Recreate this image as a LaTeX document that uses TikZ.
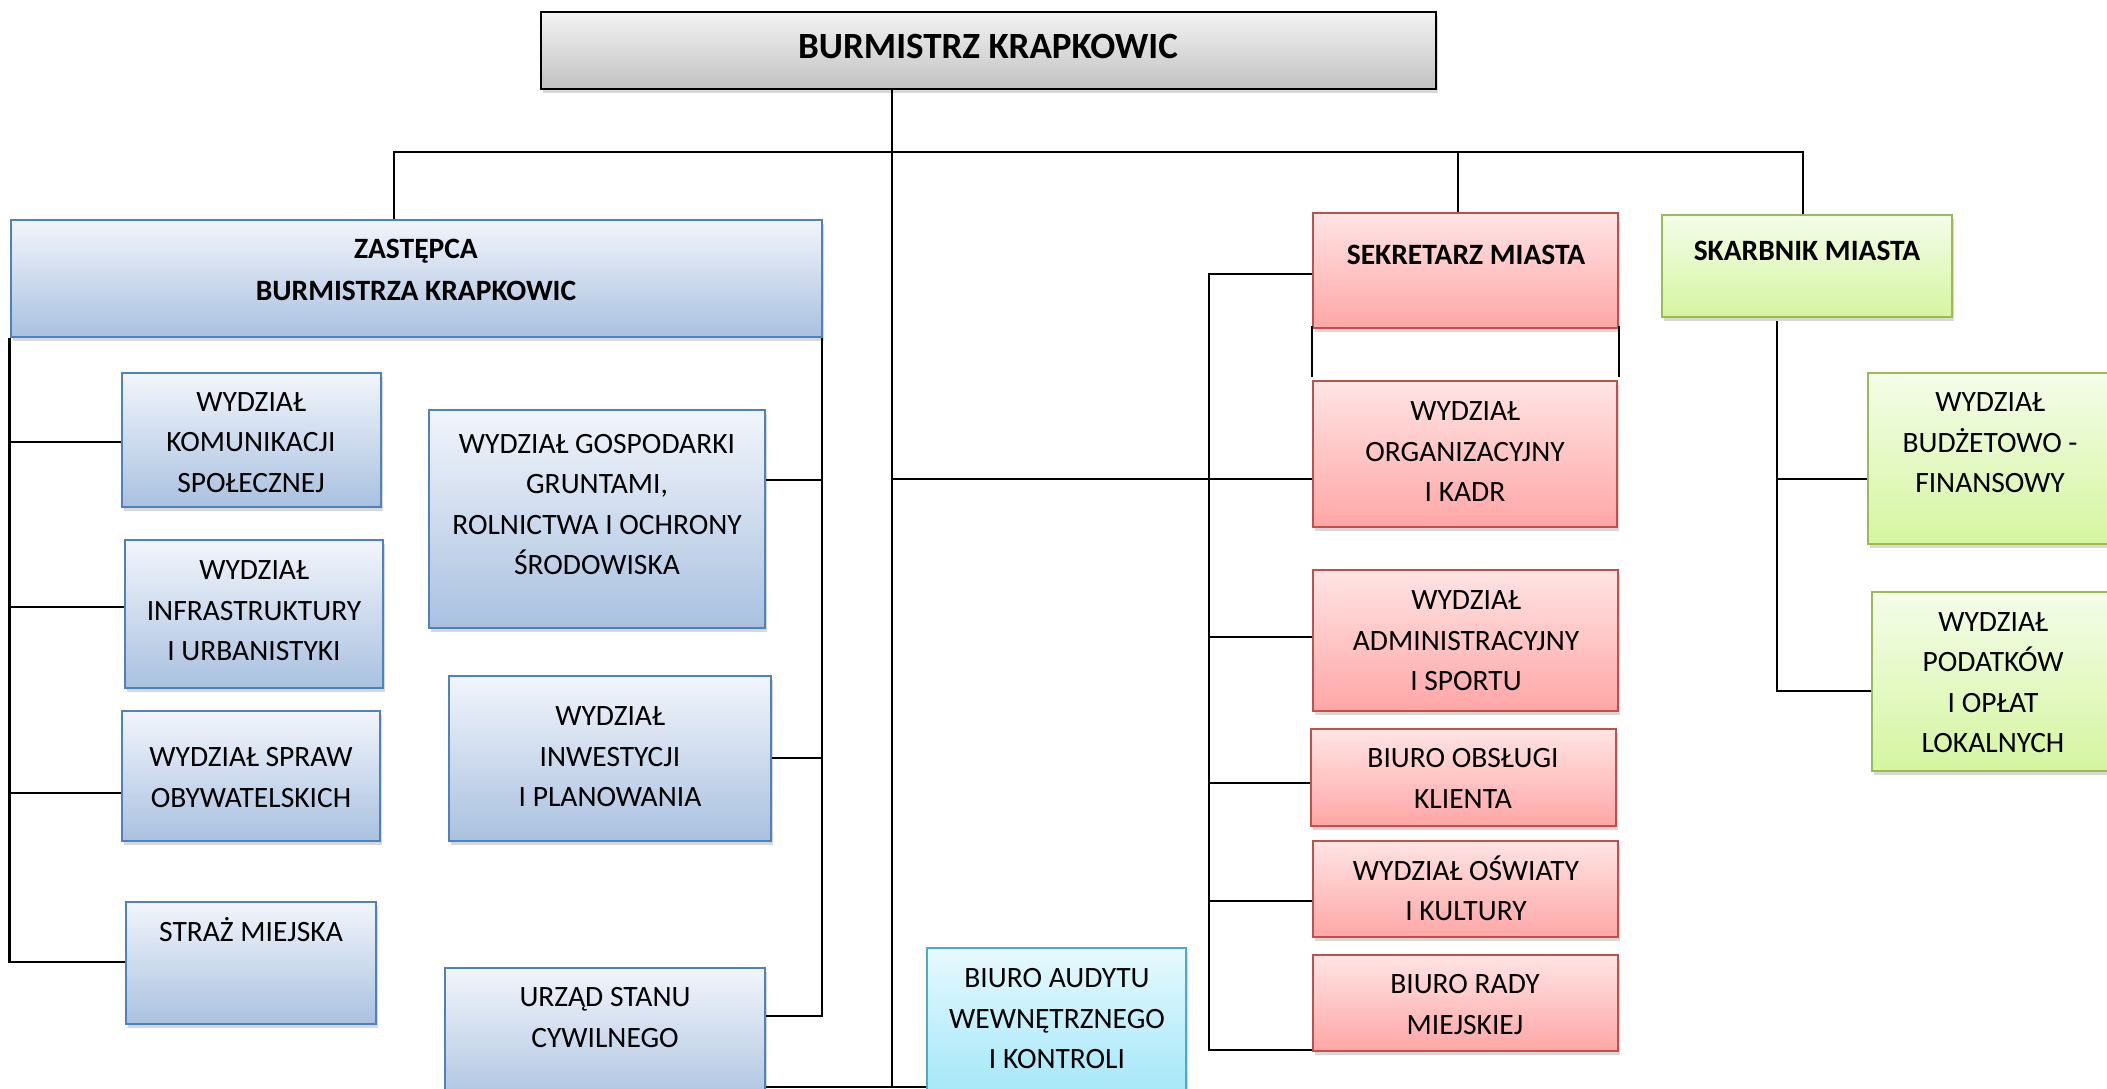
\documentclass[tikz,border=0pt]{standalone}
\usepackage{fontspec}
\setmainfont{Carlito}
\usetikzlibrary{shadows}
\definecolor{bbord}{HTML}{4F81BD}
\definecolor{btop}{HTML}{F2F5FB}
\definecolor{bbot}{HTML}{A9C1E0}
\definecolor{rbord}{HTML}{C0504D}
\definecolor{rtop}{HTML}{FFE4E4}
\definecolor{rbot}{HTML}{FFA6A6}
\definecolor{gbord}{HTML}{9BBB59}
\definecolor{gtop}{HTML}{F4FDE9}
\definecolor{gbot}{HTML}{D5F5A0}
\definecolor{cbord}{HTML}{4BACC6}
\definecolor{ctop}{HTML}{E6F9FE}
\definecolor{cbot}{HTML}{9DE5F8}
\definecolor{ktop}{HTML}{F3F3F3}
\definecolor{kbot}{HTML}{C2C2C2}
\tikzset{
  box/.style={rectangle, inner sep=0pt, line width=2pt,
    drop shadow={opacity=0.3, shadow xshift=2pt, shadow yshift=-4pt}},
  bluebox/.style={box, draw=bbord, top color=btop, bottom color=bbot},
  redbox/.style={box, draw=rbord, top color=rtop, bottom color=rbot},
  greenbox/.style={box, draw=gbord, top color=gtop, bottom color=gbot},
  cyanbox/.style={box, draw=cbord, top color=ctop, bottom color=cbot},
  graybox/.style={box, draw=black, top color=ktop, bottom color=kbot},
  txt/.style={align=center, inner sep=0pt, font=\fontsize{29.5}{40.5}\selectfont},
  btxt/.style={align=center, inner sep=0pt, font=\fontsize{29.5}{42}\selectfont\bfseries},
  conn/.style={line width=2.2pt, black},
}
\newcommand\mybox[6]{\node[#1, minimum width={(#5)-(#3)}, minimum height={(#6)-(#4)}] (#2) at ({((#3)+(#5))/2},{((#4)+(#6))/2}) {};}
\begin{document}
\begin{tikzpicture}[x=1pt,y=-1pt]
\fill[white] (0,0) rectangle (2107,1088);
\useasboundingbox (0,0) rectangle (2107,1088);
\clip (0,0) rectangle (2107,1088);
% boxes
\mybox{graybox}{title}{541}{12}{1436}{89}
\mybox{bluebox}{zast}{10.6}{220}{821.6}{337}
\mybox{bluebox}{kom}{122}{373}{381}{507}
\mybox{bluebox}{infra}{125}{540}{383}{688}
\mybox{bluebox}{spraw}{122}{711}{380}{841}
\mybox{bluebox}{straz}{126}{902}{376}{1024}
\mybox{bluebox}{gosp}{429}{410}{765}{628}
\mybox{bluebox}{inw}{449}{676}{771}{841}
\mybox{bluebox}{usc}{445}{968}{765}{1110}
\mybox{cyanbox}{audyt}{927}{948}{1186}{1110}
\mybox{redbox}{sek}{1313}{213}{1618}{328}
\mybox{redbox}{org}{1313}{381}{1617}{527}
\mybox{redbox}{adm}{1313}{570}{1618}{711}
\mybox{redbox}{bok}{1311}{729}{1616}{826}
\mybox{redbox}{osw}{1313}{841}{1618}{937}
\mybox{redbox}{rady}{1313}{955}{1618}{1051}
\mybox{greenbox}{skar}{1662}{215}{1952}{317}
\mybox{greenbox}{budz}{1868}{373}{2114}{544}
\mybox{greenbox}{pod}{1872}{592}{2116}{771}
% texts
\node[anchor=base, inner sep=0pt, font=\fontsize{37}{40}\selectfont\bfseries] (titleT) at (988,58) {BURMISTRZ KRAPKOWIC};
\node[btxt] (zastT) at (416,271) {\strut ZASTĘPCA\\BURMISTRZA KRAPKOWIC\strut};
\node[txt] (komT) at (251,443.5) {\strut WYDZIAŁ\\KOMUNIKACJI\\SPOŁECZNEJ\strut};
\node[txt] (infraT) at (254,612) {\strut WYDZIAŁ\\INFRASTRUKTURY\\I URBANISTYKI\strut};
\node[txt] (sprawT) at (251,779) {\strut WYDZIAŁ SPRAW\\OBYWATELSKICH\strut};
\node[txt] (strazT) at (251,933) {\strut STRAŻ MIEJSKA\strut};
\node[txt] (gospT) at (597,506) {\strut WYDZIAŁ GOSPODARKI\\GRUNTAMI,\\ROLNICTWA I OCHRONY\\ŚRODOWISKA\strut};
\node[txt] (inwT) at (610,758) {\strut WYDZIAŁ\\INWESTYCJI\\I PLANOWANIA\strut};
\node[txt] (uscT) at (605,1019) {\strut URZĄD STANU\\CYWILNEGO\strut};
\node[txt] (audytT) at (1057,1020) {\strut BIURO AUDYTU\\WEWNĘTRZNEGO\\I KONTROLI\strut};
\node[btxt] (sekT) at (1466,256) {\strut SEKRETARZ MIASTA\strut};
\node[txt] (orgT) at (1465,453) {\strut WYDZIAŁ\\ORGANIZACYJNY\\I KADR\strut};
\node[txt] (admT) at (1466,642) {\strut WYDZIAŁ\\ADMINISTRACYJNY\\I SPORTU\strut};
\node[txt] (bokT) at (1463,780) {\strut BIURO OBSŁUGI\\KLIENTA\strut};
\node[txt] (oswT) at (1466,892.5) {\strut WYDZIAŁ OŚWIATY\\I KULTURY\strut};
\node[txt] (radyT) at (1465,1006) {\strut BIURO RADY\\MIEJSKIEJ\strut};
\node[btxt] (skarT) at (1807,252) {\strut SKARBNIK MIASTA\strut};
\node[txt] (budzT) at (1990,444) {\strut WYDZIAŁ\\BUDŻETOWO -\\FINANSOWY\strut};
\node[txt] (podT) at (1993,684) {\strut WYDZIAŁ\\PODATKÓW\\I OPŁAT\\LOKALNYCH\strut};
% bus coordinates
\coordinate (mvx) at (892,0);
\coordinate (mvbot) at (892,1087);
\coordinate (busL) at (394,152);
\coordinate (busR) at (1803,152);
\coordinate (sekx) at (1458,152);
\coordinate (zl) at (9.5,962);
\coordinate (zr) at (821.6,1016);
\coordinate (ck) at (9.5,442);
\coordinate (ci) at (9.5,607);
\coordinate (cs) at (9.5,793);
\coordinate (cg) at (821.6,480);
\coordinate (cw) at (821.6,758);
\coordinate (co) at (892,479);
\coordinate (sx) at (1209,274);
\coordinate (sxb) at (1209,1050);
\coordinate (ca) at (1209,637);
\coordinate (cb) at (1209,783);
\coordinate (cos) at (1209,901);
\coordinate (skx) at (1777,0);
\coordinate (skb) at (1777,691);
\coordinate (cbu) at (1777,479);
\coordinate (sgy) at (0,377);
% connectors
\draw[conn] (title.south -| mvx) -- (mvbot);
\draw[conn] (zast.north -| busL) -- (busL) -- (busR) -- (skar.north -| busR);
\draw[conn] (sekx) -- (sek.north -| sekx);
\draw[conn] (zast.south -| zl) -- (zl) -- (zl -| straz.west);
\draw[conn] (ck) -- (ck -| kom.west);
\draw[conn] (ci) -- (ci -| infra.west);
\draw[conn] (cs) -- (cs -| spraw.west);
\draw[conn] (zast.south -| zr) -- (zr) -- (zr -| usc.east);
\draw[conn] (cg) -- (cg -| gosp.east);
\draw[conn] (cw) -- (cw -| inw.east);
\draw[conn] (usc.east |- mvbot) -- (audyt.west |- mvbot);
\draw[conn] (co) -- (co -| org.west);
\draw[conn] (sek.west |- sx) -- (sx) -- (sxb) -- (sxb -| rady.west);
\draw[conn] (ca) -- (ca -| adm.west);
\draw[conn] (cb) -- (cb -| bok.west);
\draw[conn] (cos) -- (cos -| osw.west);
\draw[conn] ([yshift=3pt]sek.south west) -- (sek.south west |- sgy);
\draw[conn] ([yshift=3pt]sek.south east) -- (sek.south east |- sgy);
\draw[conn] ([yshift=-3pt]skar.south -| skx) -- (skb) -- (skb -| pod.west);
\draw[conn] (cbu) -- (cbu -| budz.west);
\end{tikzpicture}
\end{document}
